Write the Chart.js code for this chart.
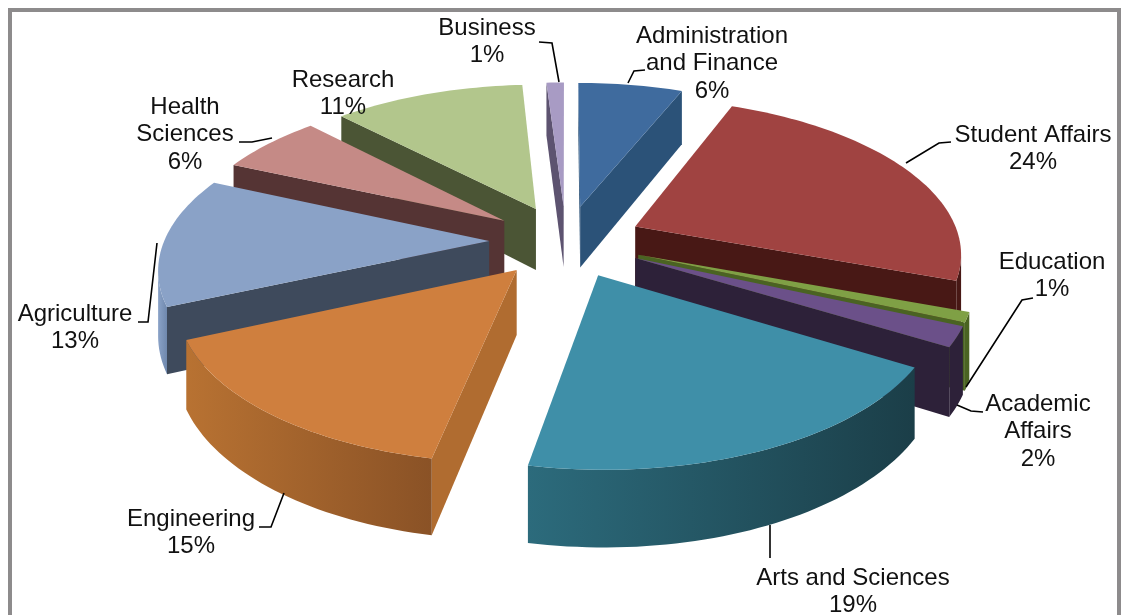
<!DOCTYPE html>
<html lang="en">
<head>
<meta charset="UTF-8">
<title>Share by unit</title>
<script src="https://cdn.jsdelivr.net/npm/chart.js"></script>
<style>
    html, body { margin: 0; background: #fff; overflow: hidden; }
    #frame { position: absolute; left: 8px; top: 8px; width: 1105px; height: 700px; border: 4px solid #8d8b8c; }
    #grafico { position: absolute; left: 0; top: 0; }
</style>
</head>
<body>
<div id="frame"></div>
<canvas id="grafico" width="1125" height="615"></canvas>
<script>
    const categories = ['Administration and Finance', 'Student Affairs', 'Education', 'Academic Affairs', 'Arts and Sciences', 'Engineering', 'Agriculture', 'Health Sciences', 'Research', 'Business'];
    const percents = [6, 24, 1, 2, 19, 15, 13, 6, 11, 1];

    const topColors = ['#3f6b9e', '#a04341', '#7fa045', '#6b5089', '#3f8fa8', '#cf7f3e', '#8aa2c7', '#c58a86', '#b2c68c', '#a89bc4'];
    const cutColors = ['#2b5278', '#481815', '#4a6322', '#2d2139', '#1d4450', '#b06c30', '#3e4a5c', '#553434', '#4b5535', '#5d5370'];
    const wallLeft = ['#2b5278', '#481815', '#4a6322', '#2d2139', '#2c6b7c', '#b87232', '#8aa2c7', '#553434', '#4b5535', '#5d5370'];
    const wallRight = ['#2b5278', '#481815', '#4a6322', '#2d2139', '#1b3e48', '#8a5226', '#6f88ad', '#553434', '#4b5535', '#5d5370'];

    // label text lines, position of first line, leader polyline
    const labelLayout = [
        { lines: ['Administration', 'and Finance', '6%'], x: 712, y: 36, leader: [[645, 70], [634, 71], [628, 83]] },
        { lines: ['Student Affairs', '24%'], x: 1033, y: 135, leader: [[951, 142], [939, 143], [906, 163]] },
        { lines: ['Education', '1%'], x: 1052, y: 262, leader: [[1033, 298], [1022, 300], [966, 387]] },
        { lines: ['Academic', 'Affairs', '2%'], x: 1038, y: 404, leader: [[983, 412], [971, 411], [957, 405]] },
        { lines: ['Arts and Sciences', '19%'], x: 853, y: 578, leader: [[770, 525], [770, 558]] },
        { lines: ['Engineering', '15%'], x: 191, y: 519, leader: [[259, 527], [271, 527], [284, 493]] },
        { lines: ['Agriculture', '13%'], x: 75, y: 314, leader: [[138, 322], [148, 322], [157, 243]] },
        { lines: ['Health', 'Sciences', '6%'], x: 185, y: 107, leader: [[239, 142], [252, 142], [272, 138]] },
        { lines: ['Research', '11%'], x: 343, y: 80, leader: [] },
        { lines: ['Business', '1%'], x: 487, y: 28, leader: [[539, 42], [552, 43], [559, 82]] }
    ];

    // camera for the tilted pie
    const view = { cx: 566, cy: 241, tilt: 0.47, dist: 2100, radius: 325, depth: 63 };

    function project(x, y, z) {
        const s = view.dist / (view.dist - y);
        return [view.cx + x * s, view.cy + (y * view.tilt - z) * s];
    }

    function tracePoly(ctx, pts) {
        ctx.beginPath();
        pts.forEach((p, i) => i ? ctx.lineTo(p[0], p[1]) : ctx.moveTo(p[0], p[1]));
        ctx.closePath();
    }

    function area(pts) {
        let sum = 0;
        pts.forEach((p, i) => {
            const q = pts[(i + 1) % pts.length];
            sum += p[0] * q[1] - q[0] * p[1];
        });
        return sum / 2;
    }

    function drawSlice(ctx, arc, i) {
        const props = arc.getProps(['startAngle', 'endAngle', 'outerRadius']);
        const k = view.radius / props.outerRadius;
        const off = arc.options.offset * k;
        const mid = (props.startAngle + props.endAngle) / 2;
        const ox = Math.cos(mid) * off, oy = Math.sin(mid) * off;
        const steps = Math.max(4, Math.ceil((props.endAngle - props.startAngle) * 40));
        const rim = [];
        for (let n = 0; n <= steps; n++) {
            const a = props.startAngle + (props.endAngle - props.startAngle) * n / steps;
            rim.push([ox + Math.cos(a) * view.radius, oy + Math.sin(a) * view.radius]);
        }
        const side = (a, b) => [project(a[0], a[1], 0), project(b[0], b[1], 0), project(b[0], b[1], -view.depth), project(a[0], a[1], -view.depth)];
        const origin = [ox, oy];

        // cut faces, only the ones turned to the viewer
        [side(origin, rim[0]), side(rim[steps], origin)].forEach(q => {
            if (area(q) < 0) {
                tracePoly(ctx, q);
                ctx.fillStyle = cutColors[i];
                ctx.fill();
            }
        });

        // outer wall as one shape, so the gradient has no seams
        const upper = [], lower = [];
        for (let n = 0; n < steps; n++) {
            const q = side(rim[n], rim[n + 1]);
            if (area(q) < 0) {
                if (!upper.length) { upper.push(q[0]); lower.push(q[3]); }
                upper.push(q[1]);
                lower.push(q[2]);
            }
        }
        if (upper.length) {
            const shape = upper.concat(lower.reverse());
            const xs = shape.map(p => p[0]);
            const g = ctx.createLinearGradient(Math.min(...xs), 0, Math.max(...xs), 0);
            g.addColorStop(0, wallLeft[i]);
            g.addColorStop(1, wallRight[i]);
            tracePoly(ctx, shape);
            ctx.fillStyle = g;
            ctx.fill();
        }

        // top face
        tracePoly(ctx, [project(ox, oy, 0)].concat(rim.map(p => project(p[0], p[1], 0))));
        ctx.fillStyle = topColors[i];
        ctx.fill();
    }

    const pie3d = {
        id: 'pie3d',
        beforeDatasetDraw(chart, args) {
            const ctx = chart.ctx;
            const arcs = args.meta.data;
            const order = arcs.map((a, i) => i).sort((p, q) => {
                const midOf = a => (a.startAngle + a.endAngle) / 2;
                return Math.sin(midOf(arcs[p])) - Math.sin(midOf(arcs[q]));
            });
            ctx.save();
            order.forEach(i => drawSlice(ctx, arcs[i], i));
            ctx.restore();
            return false;
        },
        afterDatasetsDraw(chart) {
            const ctx = chart.ctx;
            ctx.save();
            ctx.strokeStyle = '#000';
            ctx.lineWidth = 1.6;
            labelLayout.forEach(l => {
                if (!l.leader.length) return;
                ctx.beginPath();
                l.leader.forEach((p, i) => i ? ctx.lineTo(p[0], p[1]) : ctx.moveTo(p[0], p[1]));
                ctx.stroke();
            });
            ctx.fillStyle = '#111';
            ctx.font = '24px "Liberation Sans"';
            ctx.textAlign = 'center';
            ctx.textBaseline = 'middle';
            labelLayout.forEach(l => {
                l.lines.forEach((t, n) => ctx.fillText(t, l.x, l.y + n * 27.6));
            });
            ctx.restore();
        }
    };

    new Chart(document.getElementById('grafico').getContext('2d'), {
        type: 'pie',
        data: {
            labels: categories,
            datasets: [{
                data: percents,
                backgroundColor: topColors,
                borderWidth: 0,
                offset: 65
            }]
        },
        options: {
            responsive: false,
            animation: false,
            plugins: { legend: { display: false }, tooltip: { enabled: false } }
        },
        plugins: [pie3d]
    });
</script>
</body>
</html>
